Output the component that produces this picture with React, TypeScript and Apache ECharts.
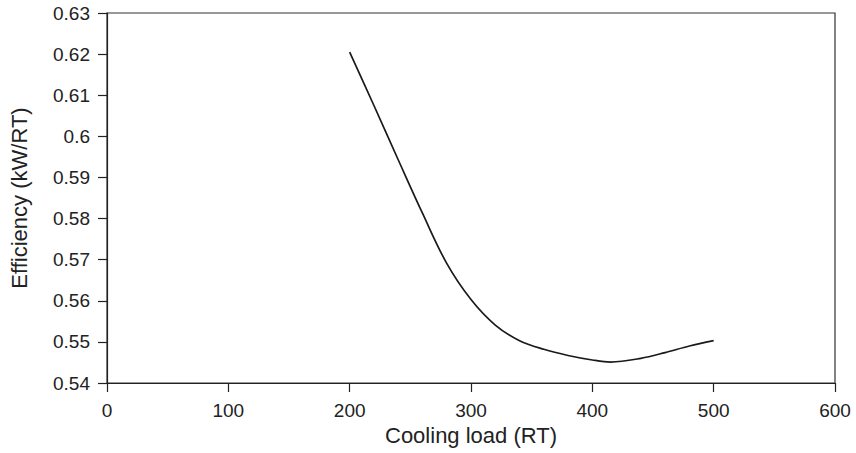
import React, { useEffect, useRef } from "react";
import * as echarts from "echarts";

const loadRT = [200, 220, 240, 260, 280, 300, 320, 340, 360, 380, 400, 415, 440, 460, 480, 500];
const efficiency = [0.6205, 0.6075, 0.5943, 0.5813, 0.5691, 0.5603, 0.5541, 0.5503, 0.5482, 0.5467, 0.5456, 0.5451, 0.546, 0.5474, 0.549, 0.5503];

const xTitle = "Cooling load (RT)";
const yTitle = "Efficiency (kW/RT)";

export default function App() {
  const ref = useRef<HTMLDivElement>(null);
  useEffect(() => {
    const chart = echarts.init(ref.current!, null, { renderer: "svg" });
    const font = "'Liberation Sans', Arial, Helvetica, sans-serif";
    const axisColor = "#222";
    chart.setOption({
      animation: false,
      backgroundColor: "#fff",
      grid: {
        left: 101,
        right: 21,
        top: 13,
        bottom: 70,
        show: true,
        borderColor: "#333",
        borderWidth: 1.2,
      },
      xAxis: {
        type: "value",
        min: 0,
        max: 600,
        interval: 100,
        name: xTitle,
        nameLocation: "middle",
        nameGap: 40,
        nameTextStyle: { fontFamily: font, fontSize: 22, color: axisColor },
        axisLine: { show: true, lineStyle: { color: axisColor, width: 1.2 } },
        axisTick: { show: true, inside: false, length: 9, lineStyle: { color: axisColor, width: 1.2 } },
        axisLabel: { fontFamily: font, fontSize: 19, color: axisColor, margin: 18 },
        splitLine: { show: false },
      },
      yAxis: {
        type: "value",
        min: 0.54,
        max: 0.63,
        interval: 0.01,
        name: yTitle,
        nameLocation: "middle",
        nameGap: 77,
        nameRotate: 90,
        nameTextStyle: { fontFamily: font, fontSize: 22, color: axisColor },
        axisLine: { show: true, lineStyle: { color: axisColor, width: 1.2 } },
        axisTick: { show: true, inside: false, length: 9, lineStyle: { color: axisColor, width: 1.2 } },
        axisLabel: {
          fontFamily: font,
          fontSize: 19,
          color: axisColor,
          margin: 17,
          formatter: (v: number) => String(parseFloat(v.toFixed(2))),
        },
        splitLine: { show: false },
      },
      series: [
        {
          type: "line",
          data: loadRT.map((x, i) => [x, efficiency[i]]),
          smooth: 0.35,
          showSymbol: false,
          lineStyle: { color: "#1a1a1a", width: 1.7 },
        },
      ],
    });
    return () => chart.dispose();
  }, []);
  return (
    <div
      ref={ref}
      style={{ position: "fixed", left: 0, top: 0, width: 856, height: 453, background: "#fff" }}
    />
  );
}
